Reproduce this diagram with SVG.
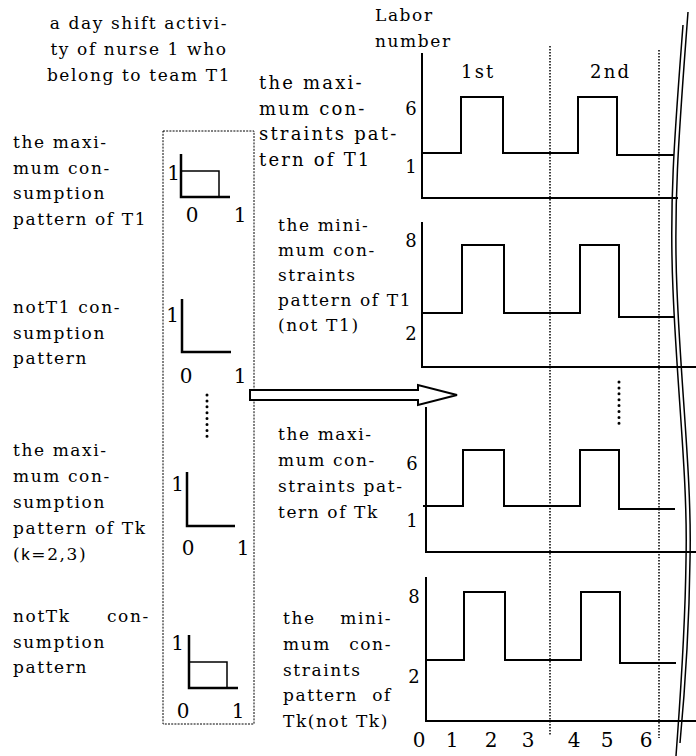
<svg xmlns="http://www.w3.org/2000/svg" width="696" height="756" viewBox="0 0 696 756">
<style>
.t{font-family:"DejaVu Serif",serif;font-size:17px;letter-spacing:1.6px;fill:#000}
.tb{font-family:"DejaVu Serif",serif;font-size:18px;letter-spacing:2.2px;fill:#000}
.n{font-family:"DejaVu Serif",serif;font-size:18px;fill:#000}
.sn{font-family:"DejaVu Serif",serif;font-size:20px;fill:#000}
.ax{stroke:#000;stroke-width:2;fill:none}
.sax{stroke:#000;stroke-width:2.5;fill:none}
.thin{stroke:#000;stroke-width:1.5;fill:none}
.dotv{stroke:#000;stroke-width:1.5;stroke-dasharray:1.5 1.5;fill:none}
.dots{stroke:#000;stroke-width:3;stroke-linecap:round;stroke-dasharray:0 5.9;fill:none}
.box{stroke:#000;stroke-width:1;stroke-dasharray:2 1.2;fill:none}
.brk{stroke:#000;stroke-width:1.5;fill:none}
</style>

<g id="title">
<text class="t" text-anchor="middle" x="139" y="29">a day shift activi-</text>
<text class="t" text-anchor="middle" x="139" y="55">ty of nurse 1 who</text>
<text class="t" text-anchor="middle" x="139" y="81">belong to team T1</text>
</g>

<g id="ylabel">
<text class="t" x="375" y="21">Labor</text>
<text class="t" x="375" y="47">number</text>
</g>

<g id="shift-labels">
<text class="tb" x="461" y="78">1st</text>
<text class="tb" x="590" y="78">2nd</text>
</g>

<g id="left-labels">
<text class="t" x="13" y="148">the maxi-</text>
<text class="t" x="13" y="173.5">mum con-</text>
<text class="t" x="13" y="199">sumption</text>
<text class="t" x="13" y="224.5">pattern of T1</text>

<text class="t" x="13" y="313">notT1 con-</text>
<text class="t" x="13" y="338.5">sumption</text>
<text class="t" x="13" y="364">pattern</text>

<text class="t" x="13" y="456">the maxi-</text>
<text class="t" x="13" y="482">mum con-</text>
<text class="t" x="13" y="508">sumption</text>
<text class="t" x="13" y="534">pattern of Tk</text>
<text class="t" x="13" y="560">(<tspan font-family="Liberation Sans, sans-serif">k</tspan>=2,3)</text>

<text class="t" x="13" y="622">notTk</text>
<text class="t" x="107" y="622">con-</text>
<text class="t" x="13" y="647.5">sumption</text>
<text class="t" x="13" y="673">pattern</text>
</g>

<g id="consumption-box">
<rect class="box" x="163" y="131" width="91" height="593"/>
<path class="sax" d="M181,154 V197 H230"/>
<path class="thin" d="M181,171 H219 V197"/>
<text class="sn" text-anchor="end" x="180" y="180">1</text>
<text class="sn" text-anchor="middle" x="192" y="222">0</text>
<text class="sn" text-anchor="middle" x="240" y="222">1</text>

<path class="sax" d="M182,299 V352 H231"/>
<text class="sn" text-anchor="end" x="179" y="322">1</text>
<text class="sn" text-anchor="middle" x="186" y="383">0</text>
<text class="sn" text-anchor="middle" x="240" y="383">1</text>

<path class="dots" d="M207,395 V440"/>

<path class="sax" d="M187,472 V526 H235"/>
<text class="sn" text-anchor="end" x="184" y="491">1</text>
<text class="sn" text-anchor="middle" x="188" y="555">0</text>
<text class="sn" text-anchor="middle" x="243" y="555">1</text>

<path class="sax" d="M189,635 V688 H238"/>
<path class="thin" d="M189,662 H227 V688"/>
<text class="sn" text-anchor="end" x="184" y="650">1</text>
<text class="sn" text-anchor="middle" x="183" y="718">0</text>
<text class="sn" text-anchor="middle" x="238" y="718">1</text>
</g>

<g id="connectors">
<polygon points="250,390 418,390 418,385 457,395 418,405 418,400 250,400" fill="#fff" stroke="#000" stroke-width="2" stroke-linejoin="miter"/>
</g>

<g id="panel-labels">
<text class="tb" x="259" y="89">the maxi-</text>
<text class="tb" x="259" y="114.5">mum con-</text>
<text class="tb" x="259" y="140">straints pat-</text>
<text class="tb" x="259" y="165.5">tern of T1</text>

<text class="t" x="278" y="231">the mini-</text>
<text class="t" x="278" y="256">mum con-</text>
<text class="t" x="278" y="281">straints</text>
<text class="t" x="278" y="306">pattern of T1</text>
<text class="t" x="278" y="331">(not T1)</text>

<text class="t" x="278" y="440">the maxi-</text>
<text class="t" x="278" y="466">mum con-</text>
<text class="t" x="278" y="492">straints pat-</text>
<text class="t" x="278" y="518">tern of Tk</text>

<text class="t" x="283" y="624">the</text>
<text class="t" text-anchor="end" x="392" y="624">mini-</text>
<text class="t" x="283" y="650">mum</text>
<text class="t" text-anchor="end" x="392" y="650">con-</text>
<text class="t" x="283" y="676">straints</text>
<text class="t" x="283" y="701">pattern</text>
<text class="t" text-anchor="end" x="392" y="701">of</text>
<text class="t" x="283" y="727">Tk(not Tk)</text>
</g>

<g id="grid">
<path class="dotv" d="M550,46 V736"/>
<path class="dotv" d="M659,50 V738"/>
<path class="dots" d="M619,382 V426"/>
</g>

<g id="panel1">
<path class="ax" d="M422,53 V198 H678"/>
<path class="ax" d="M422,153 H461 V97 H503 V153 H578 V97 H617 V155 H674"/>
<text class="n" text-anchor="middle" x="411" y="115">6</text>
<text class="n" text-anchor="middle" x="411" y="173">1</text>
</g>

<g id="panel2">
<path class="ax" d="M422,222 V367 H696"/>
<path class="ax" d="M422,313 H462 V245 H504 V313 H580 V245 H619 V317 H675"/>
<text class="n" text-anchor="middle" x="411" y="247">8</text>
<text class="n" text-anchor="middle" x="411" y="340">2</text>
</g>

<g id="panel3">
<path class="ax" d="M426,407 V552 H696"/>
<path class="ax" d="M423,506 H463 V450 H504 V506 H580 V450 H619 V509 H675"/>
<text class="n" text-anchor="middle" x="412" y="470">6</text>
<text class="n" text-anchor="middle" x="412" y="527">1</text>
</g>

<g id="panel4">
<path class="ax" d="M426,577 V721 H696"/>
<path class="ax" d="M426,660 H464 V592 H505 V660 H581 V592 H620 V663 H676"/>
<text class="n" text-anchor="middle" x="414" y="603">8</text>
<text class="n" text-anchor="middle" x="414" y="683">2</text>
</g>

<g id="x-axis-labels">
<text class="sn" text-anchor="middle" x="419" y="747">0</text>
<text class="sn" text-anchor="middle" x="452" y="747">1</text>
<text class="sn" text-anchor="middle" x="491" y="747">2</text>
<text class="sn" text-anchor="middle" x="528" y="747">3</text>
<text class="sn" text-anchor="middle" x="574" y="747">4</text>
<text class="sn" text-anchor="middle" x="607" y="747">5</text>
<text class="sn" text-anchor="middle" x="646" y="747">6</text>
</g>

<g id="break-lines">
<path class="brk" d="M688,12 C680,120 673,200 677,290 C681,390 692,480 690,560 C689,640 684,700 680,743"/>
<path class="brk" d="M683,25 C675,130 669,200 673,290 C677,390 688,480 686,560 C685,640 680,700 676,756"/>
</g>
</svg>
